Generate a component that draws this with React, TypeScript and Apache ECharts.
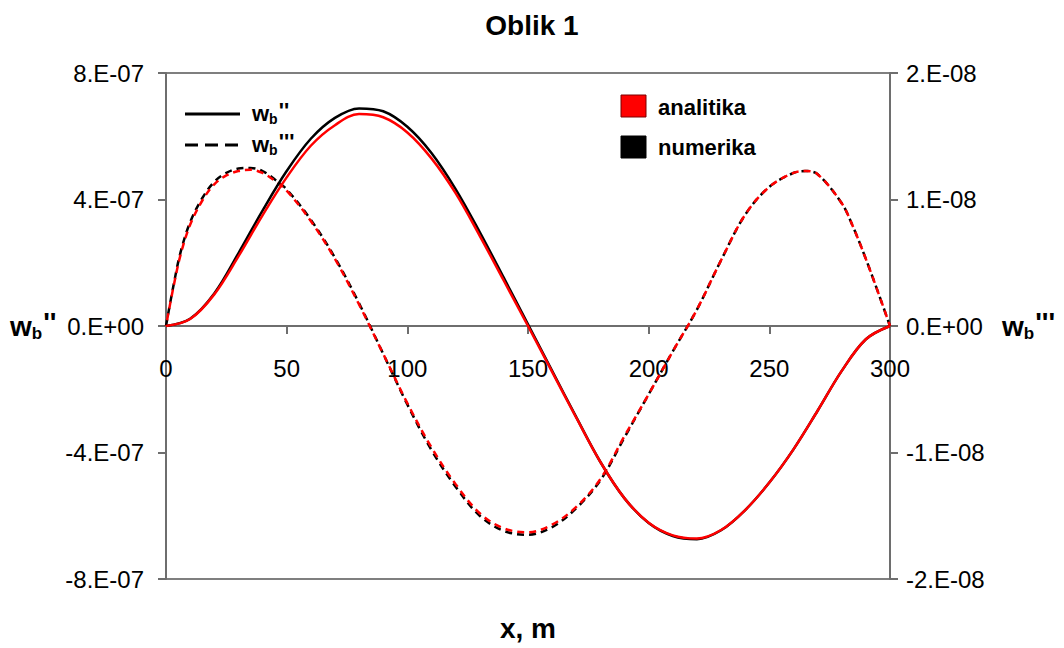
import React, { useEffect, useRef } from "react";
import * as echarts from "echarts";

// x positions, m
const xSolid = [0, 10, 20, 30, 40, 50, 60, 70, 80, 90, 100, 110, 120, 130, 140, 150, 160, 170, 180, 190, 200, 210, 220, 230, 240, 250, 260, 270, 280, 290, 300];
// w_b'' (units of 1E-07)
const wb2Analitika = [0, 0.22, 1.0, 2.2, 3.5, 4.7, 5.7, 6.35, 6.7, 6.6, 6.12, 5.3, 4.2, 2.85, 1.43, 0, -1.45, -2.9, -4.3, -5.45, -6.22, -6.62, -6.72, -6.45, -5.82, -4.95, -3.9, -2.68, -1.42, -0.42, 0];
const wb2Numerika = [0, 0.23, 1.03, 2.3, 3.65, 4.9, 5.92, 6.58, 6.88, 6.79, 6.3, 5.47, 4.33, 2.97, 1.52, 0.05, -1.42, -2.88, -4.3, -5.45, -6.23, -6.64, -6.74, -6.46, -5.82, -4.95, -3.9, -2.68, -1.42, -0.42, 0];

const xDashed = [0, 3, 6, 10, 15, 20, 25, 30, 35, 40, 45, 50, 60, 70, 80, 90, 100, 110, 120, 130, 140, 150, 160, 170, 180, 190, 200, 210, 220, 230, 240, 250, 260, 265, 270, 280, 285, 290, 295, 300];
// w_b''' (units of 1E-08)
const wb3Analitika = [0, 0.3, 0.56, 0.8, 0.99, 1.12, 1.19, 1.225, 1.235, 1.21, 1.15, 1.07, 0.83, 0.53, 0.17, -0.22, -0.61, -0.96, -1.25, -1.48, -1.6, -1.63, -1.57, -1.43, -1.21, -0.87, -0.54, -0.2, 0.13, 0.52, 0.88, 1.1, 1.21, 1.225, 1.2, 0.97, 0.77, 0.53, 0.27, 0];
const wb3Numerika = [0, 0.31, 0.58, 0.82, 1.01, 1.14, 1.21, 1.245, 1.25, 1.225, 1.16, 1.08, 0.84, 0.54, 0.18, -0.22, -0.62, -0.98, -1.27, -1.5, -1.62, -1.65, -1.59, -1.44, -1.22, -0.88, -0.54, -0.2, 0.13, 0.52, 0.88, 1.1, 1.21, 1.225, 1.2, 0.97, 0.77, 0.53, 0.27, 0];

const SCALE2 = 1e-7;
const SCALE3 = 1e-8;

const titleText = "Oblik 1";
const xAxisTitle = "x, m";
const legendSeries = ["analitika", "numerika"];

const FONT = '"Liberation Sans", Arial, sans-serif';

const GRID_TOP = 73;
const GRID_BOTTOM = 69;
const CHART_H = 648;

const fmtE = (v: number) => {
  if (Math.abs(v) < 1e-15) return "0.E+00";
  const s = v.toExponential(0);
  const [m, e] = s.split("e");
  const ei = parseInt(e, 10);
  return `${m}.E${ei < 0 ? "-" : "+"}${String(Math.abs(ei)).padStart(2, "0")}`;
};

function wbLabel(x: number, y: number, primes: string, size: number) {
  const bSize = Math.round(size * 0.62);
  const wW = size * 0.778;
  const bW = bSize * 0.611;
  return {
    type: "group",
    children: [
      { type: "text", x, y, style: { text: "w", font: `bold ${size}px ${FONT}`, fill: "#000", textVerticalAlign: "middle" } },
      { type: "text", x: x + wW, y: y + size * 0.28, style: { text: "b", font: `bold ${bSize}px ${FONT}`, fill: "#000", textVerticalAlign: "middle" } },
      { type: "text", x: x + wW + bW + 1, y: y - size * 0.12, style: { text: primes, font: `bold ${size}px ${FONT}`, fill: "#000", textVerticalAlign: "middle" } },
    ],
  };
}

export default function App() {
  const ref = useRef<HTMLDivElement>(null);
  useEffect(() => {
    if (!ref.current) return;
    const chart = echarts.init(ref.current, undefined, { renderer: "svg" });
    const pts = (xs: number[], ys: number[], s: number) => xs.map((x, i) => [x, ys[i] * s]);
    // the x axis sits on y = 0, i.e. half the plot height above the bottom edge
    const halfPlot = (CHART_H - GRID_TOP - GRID_BOTTOM) / 2;
    const SMOOTH = 0.35;
    chart.setOption({
      animation: false,
      backgroundColor: "#fff",
      title: {
        text: titleText,
        left: "center",
        top: 6,
        textStyle: { fontFamily: FONT, fontWeight: "bold", fontSize: 28, color: "#000" },
      },
      grid: {
        left: 166,
        right: 174,
        top: GRID_TOP,
        bottom: GRID_BOTTOM,
        show: true,
        borderColor: "#7f7f7f",
        borderWidth: 2,
        backgroundColor: "transparent",
      },
      xAxis: {
        type: "value",
        min: 0,
        max: 300,
        interval: 50,
        position: "bottom",
        offset: -halfPlot,
        axisLine: { onZero: false, lineStyle: { color: "#6e6e6e", width: 2 } },
        axisTick: { show: true, length: 8, lineStyle: { color: "#6e6e6e", width: 2 } },
        axisLabel: { color: "#000", fontFamily: FONT, fontSize: 24, margin: 30 },
        splitLine: { show: false },
      },
      yAxis: [
        {
          type: "value",
          min: -8e-7,
          max: 8e-7,
          interval: 4e-7,
          position: "left",
          axisLine: { show: true, onZero: false, lineStyle: { color: "#6e6e6e", width: 2 } },
          axisTick: { show: true, length: 8, lineStyle: { color: "#6e6e6e", width: 2 } },
          axisLabel: { color: "#000", fontFamily: FONT, fontSize: 24, margin: 22, formatter: fmtE },
          splitLine: { show: false },
        },
        {
          type: "value",
          min: -2e-8,
          max: 2e-8,
          interval: 1e-8,
          position: "right",
          axisLine: { show: true, onZero: false, lineStyle: { color: "#6e6e6e", width: 2 } },
          axisTick: { show: true, length: 8, lineStyle: { color: "#6e6e6e", width: 2 } },
          axisLabel: { color: "#000", fontFamily: FONT, fontSize: 24, margin: 16, formatter: fmtE },
          splitLine: { show: false },
        },
      ],
      series: [
        {
          name: "wb''' numerika",
          type: "line",
          yAxisIndex: 1,
          data: pts(xDashed, wb3Numerika, SCALE3),
          showSymbol: false,
          smooth: SMOOTH,
          lineStyle: { color: "#000", width: 2.5, type: [7, 5] },
        },
        {
          name: "wb''' analitika",
          type: "line",
          yAxisIndex: 1,
          data: pts(xDashed, wb3Analitika, SCALE3),
          showSymbol: false,
          smooth: SMOOTH,
          lineStyle: { color: "#ff0000", width: 2.5, type: [7, 5], dashOffset: 6 },
        },
        {
          name: "wb'' numerika",
          type: "line",
          yAxisIndex: 0,
          data: pts(xSolid, wb2Numerika, SCALE2),
          showSymbol: false,
          smooth: SMOOTH,
          lineStyle: { color: "#000", width: 2.5 },
        },
        {
          name: "wb'' analitika",
          type: "line",
          yAxisIndex: 0,
          data: pts(xSolid, wb2Analitika, SCALE2),
          showSymbol: false,
          smooth: SMOOTH,
          lineStyle: { color: "#ff0000", width: 2.5 },
        },
      ],
      graphic: [
        // left legend (line styles)
        { type: "line", shape: { x1: 185, y1: 114, x2: 240, y2: 114 }, style: { stroke: "#000", lineWidth: 3 } },
        { type: "line", shape: { x1: 185, y1: 145, x2: 240, y2: 145 }, style: { stroke: "#000", lineWidth: 3, lineDash: [13, 7] } },
        wbLabel(252, 113, "''", 22),
        wbLabel(252, 144, "'''", 22),
        // right legend (colours)
        { type: "rect", shape: { x: 621, y: 95, width: 25, height: 22 }, style: { fill: "#ff0000", stroke: "#7a0000", lineWidth: 1 } },
        { type: "rect", shape: { x: 621, y: 136, width: 25, height: 22 }, style: { fill: "#000", stroke: "#000", lineWidth: 1 } },
        { type: "text", x: 658, y: 107, style: { text: legendSeries[0], font: `bold 22px ${FONT}`, fill: "#000", textVerticalAlign: "middle" } },
        { type: "text", x: 658, y: 147, style: { text: legendSeries[1], font: `bold 22px ${FONT}`, fill: "#000", textVerticalAlign: "middle" } },
        // axis names
        wbLabel(10, 326, "''", 28),
        wbLabel(1002, 326, "'''", 28),
        { type: "text", x: 528, y: 628, style: { text: xAxisTitle, font: `bold 28px ${FONT}`, fill: "#000", textAlign: "center", textVerticalAlign: "middle" } },
      ],
    });
    return () => chart.dispose();
  }, []);
  return <div ref={ref} style={{ position: "fixed", left: 0, top: 0, width: 1064, height: 648 }} />;
}
